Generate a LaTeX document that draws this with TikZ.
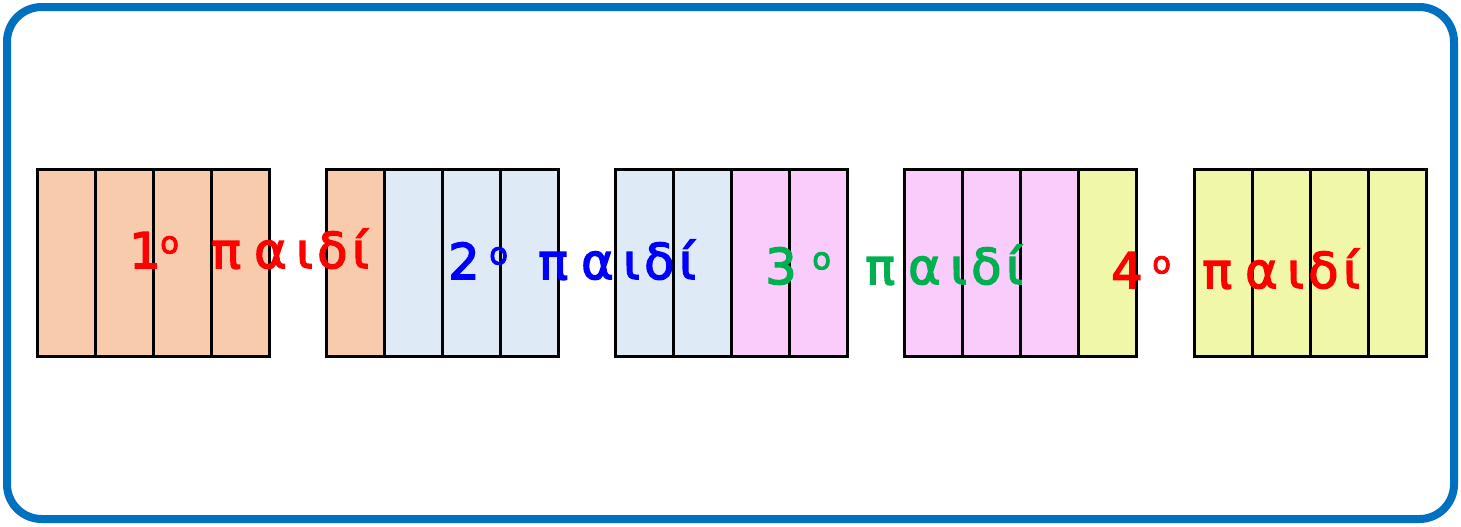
\documentclass[tikz,border=0pt]{standalone}
\usepackage{fontspec}
\setmainfont{DejaVu Sans}
\newfontfamily\lblfont[FakeBold=3]{DejaVu Sans}
\definecolor{peach}{HTML}{F8CBAD}
\definecolor{lblue}{HTML}{DEEBF7}
\definecolor{lpink}{HTML}{F9CCFB}
\definecolor{lyellow}{HTML}{F0F7A9}
\definecolor{framecol}{HTML}{0070C0}
\definecolor{lgreen}{HTML}{00B050}
\newdimen\pxu \pxu=0.75pt
\newcommand\lab[3]{\makebox[#2\pxu][l]{#1}\makebox[#3\pxu][l]{\raisebox{11pt}{\fontsize{23}{23}\selectfont ο}}\makebox[43\pxu][l]{π}\makebox[42\pxu][l]{α}\makebox[21\pxu][l]{ι}\makebox[35\pxu][l]{δ}ί}
\begin{document}
\begin{tikzpicture}[x=0.75pt,y=-0.75pt,
  frame/.style={draw=framecol,line width=6pt,rounded corners=26pt},
  cell/.style={draw=black,line width=2.25pt},
  lbl/.style={anchor=base west,inner sep=0pt,font=\lblfont\fontsize{37}{37}\selectfont}]
\useasboundingbox (0,0) rectangle (1461,526);
\draw[frame] (7,7) rectangle (1454,519);
\foreach \g/\ca/\cb/\cc/\cd in {0/peach/peach/peach/peach,1/peach/lblue/lblue/lblue,2/lblue/lblue/lpink/lpink,3/lpink/lpink/lpink/lyellow,4/lyellow/lyellow/lyellow/lyellow}{
  \foreach \c [count=\i from 0] in {\ca,\cb,\cc,\cd}{
    \fill[\c] ({37+289.25*\g+58*\i},169) rectangle ({37+289.25*\g+58*(\i+1)},356);
  }
  \foreach \i in {0,1,2,3}{
    \draw[cell] ({37+289.25*\g+58*\i},169) rectangle ({37+289.25*\g+58*(\i+1)},356);
  }
}
\node[lbl,text=red] (t1) at (129,268) {\lab{1}{31}{51}};
\node[lbl,text=blue] (t2) at (448,279) {\lab{2}{41}{49}};
\node[lbl,text=lgreen] (t3) at (765,284) {\lab{3}{47}{53}};
\node[lbl,text=red] (t4) at (1111,288) {\lab{4}{41}{50}};
\end{tikzpicture}
\end{document}
